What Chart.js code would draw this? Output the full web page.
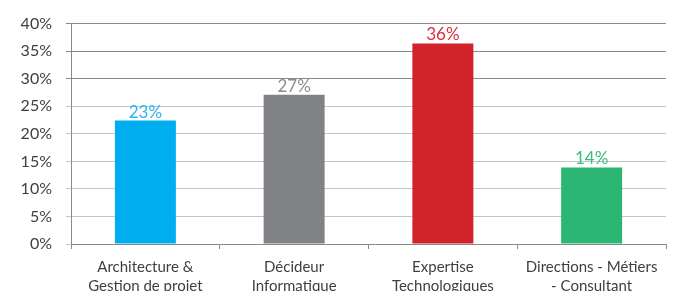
<!DOCTYPE html>
<html>
<head>
<meta charset="utf-8">
<script src="https://cdn.jsdelivr.net/npm/chart.js@4/dist/chart.umd.min.js"></script>
<style>
  html, body { margin: 0; padding: 0; background: #fff; overflow: hidden; }
  #wrap { width: 678px; height: 300px; }
</style>
</head>
<body>
<div id="wrap"><canvas id="profileChart" width="678" height="300"></canvas></div>
<script>
const categories = [
    ['Architecture &', 'Gestion de projet'],
    ['Décideur', 'Informatique'],
    ['Expertise', 'Technologiques'],
    ['Directions - Métiers', '- Consultant']
];
const values = [22.4, 27.1, 36.4, 13.9];
const valueLabels = ['23%', '27%', '36%', '14%'];
const barColors = ['#00aeef', '#808285', '#d2232a', '#2bb673'];
const labelColors = ['#29b4ec', '#8c8c8e', '#d8303a', '#3dbb7c'];

const valueLabelPlugin = {
    id: 'valueLabels',
    afterDatasetsDraw(chart) {
        const { ctx } = chart;
        const meta = chart.getDatasetMeta(0);
        ctx.save();
        ctx.font = '17px Lato';
        ctx.textAlign = 'center';
        ctx.textBaseline = 'alphabetic';
        meta.data.forEach((bar, i) => {
            ctx.fillStyle = labelColors[i];
            ctx.fillText(valueLabels[i], bar.x, bar.y - 3);
        });
        ctx.restore();
    }
};

new Chart(document.getElementById('profileChart'), {
    type: 'bar',
    data: {
        labels: categories,
        datasets: [{
            data: values,
            backgroundColor: barColors,
            barPercentage: 0.41,
            categoryPercentage: 1
        }]
    },
    plugins: [valueLabelPlugin],
    options: {
        responsive: false,
        animation: false,
        layout: { padding: { top: 22, right: 12, left: 0, bottom: 0 } },
        plugins: { legend: { display: false }, tooltip: { enabled: false } },
        scales: {
            y: {
                min: 0,
                max: 40,
                afterFit: (axis) => { axis.width = 71; },
                border: { color: '#8a8a8a' },
                grid: {
                    color: (c) => (c.tick && c.tick.value >= 30 ? '#8a8a8a' : '#c4c4c4'),
                    tickLength: 5
                },
                ticks: {
                    stepSize: 5,
                    padding: 14,
                    color: '#404040',
                    font: { family: 'Lato', size: 16 },
                    callback: (v) => `${v}%`
                }
            },
            x: {
                afterFit: (axis) => { axis.height = 56; },
                border: { color: '#8a8a8a' },
                grid: { drawOnChartArea: false, tickLength: 5, color: '#8a8a8a' },
                ticks: {
                    padding: 8,
                    color: '#404040',
                    font: { family: 'Lato', size: 15, lineHeight: 1.3 },
                    maxRotation: 0,
                    autoSkip: false
                }
            }
        }
    }
});
</script>
</body>
</html>
